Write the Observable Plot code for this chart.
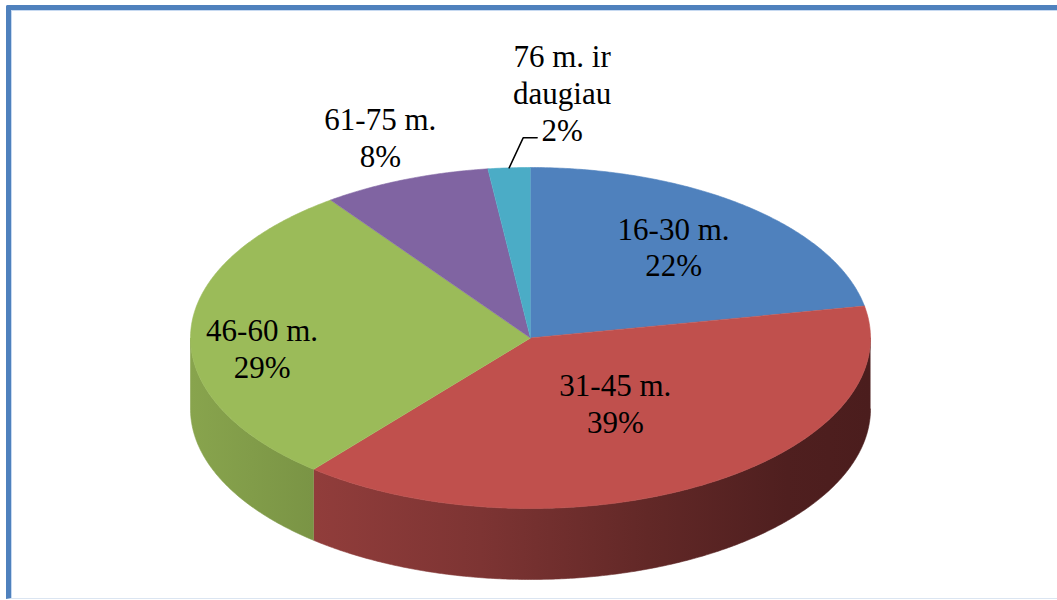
<!DOCTYPE html>
<html>
<head>
<meta charset="utf-8">
<script src="https://cdn.jsdelivr.net/npm/d3@7"></script>
<script src="https://cdn.jsdelivr.net/npm/@observablehq/plot@0.6"></script>
<style>
html, body { margin: 0; padding: 0; background: #fff; overflow: hidden; }
#wrap { position: relative; width: 1057px; height: 600px; overflow: hidden; }
#frame {
  position: absolute; left: 6px; top: 5px; width: 1100px; height: 588px;
  border-left: 5px solid #4f81bd; border-top: 5px solid #4f81bd;
  border-bottom: 1px solid #dbe5f1; border-top-left-radius: 2px;
  box-shadow: inset 1px 1px 0 #c6d9f1;
}
#chart { position: absolute; left: 0; top: 0; }
</style>
</head>
<body>
<div id="wrap"><div id="frame"></div><div id="chart"></div></div>
<script>
// ---- data ----
const categories = ["16-30 m.", "31-45 m.", "46-60 m.", "61-75 m.", "76 m. ir daugiau"];
const percents = [22, 39, 29, 8, 2];
const topColors = ["#4f81bd", "#c0504d", "#9bbb59", "#8064a2", "#4bacc6"];

// ---- layout (pie geometry in pixels) ----
const CX = 530, CY = 337.5, RX = 340, RY = 170.5, DEPTH = 71;
const D = DEPTH / RY;               // depth in y-units
const labelR  = [0.66, 0.49, 0.79, 1.2, null];
const labelDy = [0.03, 0.04, -0.08, 0.065, 0];

const total = d3.sum(percents);
let acc = 0;
const slices = categories.map((c, i) => {
  const a0 = acc / total * 2 * Math.PI;
  acc += percents[i];
  const a1 = acc / total * 2 * Math.PI;
  return {c, i, a0, a1, mid: (a0 + a1) / 2};
});

function arcPts(a0, a1) {
  const n = Math.max(2, Math.ceil((a1 - a0) / (Math.PI / 360)));
  return d3.range(n + 1).map(k => {
    const a = a0 + (a1 - a0) * k / n;
    return {x: Math.sin(a), y: Math.cos(a)};
  });
}

const marks = [];
// visible sides (front half)
slices.forEach(s => {
  const s0 = Math.max(s.a0, Math.PI / 2), s1 = Math.min(s.a1, 3 * Math.PI / 2);
  if (s0 < s1) {
    const top = arcPts(s0, s1);
    const bottom = top.slice().reverse().map(p => ({x: p.x, y: p.y - D}));
    const pts = top.concat(bottom);
    marks.push(Plot.line(pts, {x: "x", y: "y", fill: `url(#side${s.i})`, stroke: `url(#side${s.i})`, strokeWidth: 0.6}));
  }
});
// top faces
slices.forEach(s => {
  const pts = [{x: 0, y: 0}, ...arcPts(s.a0, s.a1)];
  marks.push(Plot.line(pts, {x: "x", y: "y", fill: topColors[s.i], stroke: topColors[s.i], strokeWidth: 0.6}));
});

// labels
const font = {fontFamily: "Liberation Serif, 'Times New Roman', serif", fontSize: 31, lineHeight: 1.19, fill: "#000"};
const inLabels = slices.filter(s => labelR[s.i] != null).map(s => ({
  text: `${s.c}\n${percents[s.i]}%`,
  x: labelR[s.i] * Math.sin(s.mid),
  y: labelR[s.i] * Math.cos(s.mid) + labelDy[s.i]
}));
marks.push(Plot.text(inLabels, {x: "x", y: "y", text: "text", textAnchor: "middle", ...font}));

// leader-line label for the smallest slice
const small = slices[slices.length - 1];
const p0 = {x: Math.sin(small.mid), y: Math.cos(small.mid)};
const p1 = {x: p0.x + 14 / RX, y: p0.y + 30 / RY};
const p2 = {x: p1.x + 14 / RX, y: p1.y};
marks.push(Plot.line([p0, p1, p2], {x: "x", y: "y", stroke: "#000", strokeWidth: 1.5}));
marks.push(Plot.text([{x: p2.x + 25 / RX, y: p2.y + 46 / RY, text: `${small.c}\n${percents[small.i]}%`}],
  {x: "x", y: "y", text: "text", textAnchor: "middle", lineWidth: 4.6, ...font}));

const chart = Plot.plot({
  width: 1057, height: 600, margin: 0,
  style: {background: "transparent", overflow: "visible"},
  x: {domain: [-1, 1], range: [CX - RX, CX + RX], axis: null},
  y: {domain: [-1, 1], range: [CY + RY, CY - RY], axis: null},
  marks
});

// side gradients
const sideGrad = [
  [["0", "#5d7fa9"], ["1", "#34527a"]],
  [["0", "#913d3b"], ["0.3", "#7d3433"], ["0.6", "#622827"], ["0.85", "#4f1f1f"], ["1", "#4b1d1d"]],
  [["0", "#88a44d"], ["1", "#7a9445"]],
  [["0", "#6c558a"], ["1", "#54426c"]],
  [["0", "#3f93aa"], ["1", "#2f7387"]]
];
const defs = d3.select(chart).insert("defs", ":first-child");
sideGrad.forEach((stops, i) => {
  const g = defs.append("linearGradient").attr("id", `side${i}`).attr("x1", 0).attr("x2", 1).attr("y1", 0).attr("y2", 0);
  stops.forEach(([o, c]) => g.append("stop").attr("offset", o).attr("stop-color", c));
});

document.getElementById("chart").appendChild(chart);
</script>
</body>
</html>
